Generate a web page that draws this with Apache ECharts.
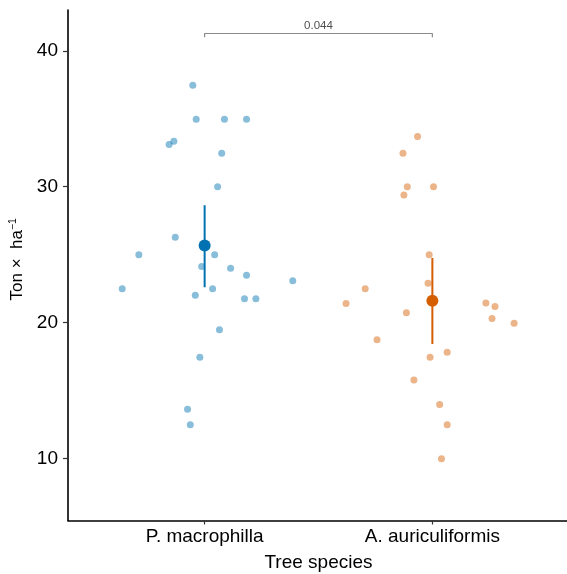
<!DOCTYPE html>
<html>
<head>
<meta charset="utf-8">
<script src="https://cdn.jsdelivr.net/npm/echarts@6/dist/echarts.min.js"></script>
<style>
html,body{margin:0;padding:0;background:#fff;}
#c{width:567px;height:574px;}
</style>
</head>
<body>
<div id="c"></div>
<script>
const categories = ['P. macrophilla', 'A. auriculiformis'];
const yTicks = [10, 20, 30, 40];

// P. macrophilla individual values and their horizontal jitter offsets
const pmValues = [37.47,34.96,34.96,34.96,33.11,33.35,32.46,30.0,26.29,25.0,25.0,24.14,24.0,23.49,23.09,22.49,22.49,22.01,21.77,21.77,19.48,17.46,13.63,12.5];
const pmJitter = [-0.052,-0.037,0.087,0.184,-0.156,-0.135,0.075,0.057,-0.129,-0.289,0.044,-0.013,0.114,0.184,0.387,-0.362,0.035,-0.041,0.175,0.225,0.065,-0.021,-0.075,-0.063];

// A. auriculiformis individual values and jitter offsets
const aaValues = [33.70,32.46,30.0,30.0,29.39,25.0,22.90,22.49,21.42,21.44,21.20,20.74,20.31,19.96,18.75,17.83,17.46,15.79,13.98,12.5,10.0];
const aaJitter = [-0.065,-0.129,-0.110,0.005,-0.125,-0.014,-0.019,-0.295,-0.379,0.235,0.275,-0.114,0.262,0.359,-0.243,0.065,-0.010,-0.081,0.032,0.065,0.040];

// mean and interval (low, high)
const means = [25.67, 21.61];
const lows = [22.60, 18.43];
const highs = [28.63, 24.76];

// significance bracket
const bracketY = 41.27;
const bracketTickY = 41.0;
const pLabel = '0.044';

const colors = ['#0072B2', '#D55E00'];
const jitterColors = ['rgba(0,114,178,0.58)', 'rgba(213,94,0,0.58)'];

function pts(vals, jit, idx) {
  return vals.map((v, i) => [idx + 1 + jit[i], v]);
}

const series = [];
[[pmValues, pmJitter], [aaValues, aaJitter]].forEach((g, k) => {
  series.push({
    type: 'scatter',
    data: pts(g[0], g[1], k),
    symbolSize: 7,
    itemStyle: { color: jitterColors[k] },
    silent: true,
    z: 2
  });
  series.push({
    type: 'line',
    data: [[k + 1, lows[k]], [k + 1, highs[k]]],
    symbol: 'none',
    lineStyle: { color: colors[k], width: 2 },
    silent: true,
    z: 3
  });
  series.push({
    type: 'scatter',
    data: [[k + 1, means[k]]],
    symbolSize: 12,
    itemStyle: { color: colors[k], opacity: 1 },
    silent: true,
    z: 4
  });
});

series.push({
  type: 'line',
  data: [[1, bracketTickY], [1, bracketY], [2, bracketY], [2, bracketTickY]],
  symbol: 'none',
  lineStyle: { color: '#8a8a8a', width: 1.2 },
  silent: true,
  z: 2
});
series.push({
  type: 'scatter',
  data: [[1.5, bracketY]],
  symbolSize: 0,
  label: {
    show: true,
    position: 'top',
    distance: 2,
    formatter: pLabel,
    fontFamily: 'Liberation Sans',
    fontSize: 11.5,
    color: '#222'
  },
  silent: true
});

const chart = echarts.init(document.getElementById('c'), null, { renderer: 'canvas' });
chart.setOption({
  animation: false,
  backgroundColor: '#fff',
  grid: { left: 68, right: -2, top: 10, bottom: 53.5, containLabel: false, outerBoundsMode: 'none' },
  xAxis: {
    type: 'value',
    min: 0.4,
    max: 2.6,
    name: 'Tree species',
    nameLocation: 'middle',
    nameGap: 33,
    nameTextStyle: { fontFamily: 'Liberation Sans', fontSize: 19, color: '#000' },
    axisLine: { lineStyle: { color: '#000', width: 1.6 } },
    axisTick: { show: true, length: 4, customValues: [1, 2], lineStyle: { color: '#333', width: 1.2 } },
    axisLabel: {
      customValues: [1, 2],
      formatter: v => categories[Math.round(v) - 1],
      fontFamily: 'Liberation Sans',
      fontSize: 19,
      color: '#000',
      margin: 7
    },
    splitLine: { show: false }
  },
  yAxis: {
    type: 'value',
    min: 5.45,
    max: 43,
    name: '{b|Ton ×  ha}{s|−1}',
    nameLocation: 'middle',
    nameGap: 32,
    nameTextStyle: {
      padding: [0, 0, 0, 12],
      rich: {
        b: { fontFamily: 'Liberation Sans', fontSize: 17, color: '#000', lineHeight: 18, verticalAlign: 'bottom' },
        s: { fontFamily: 'Liberation Sans', fontSize: 10.5, color: '#000', lineHeight: 18, verticalAlign: 'top' }
      }
    },
    axisLine: { lineStyle: { color: '#000', width: 1.6 } },
    axisTick: { show: true, length: 5, customValues: yTicks, lineStyle: { color: '#333', width: 1.2 } },
    axisLabel: {
      customValues: yTicks,
      fontFamily: 'Liberation Sans',
      fontSize: 19,
      color: '#000',
      margin: 10
    },
    splitLine: { show: false }
  },
  series: series
});
</script>
</body>
</html>
